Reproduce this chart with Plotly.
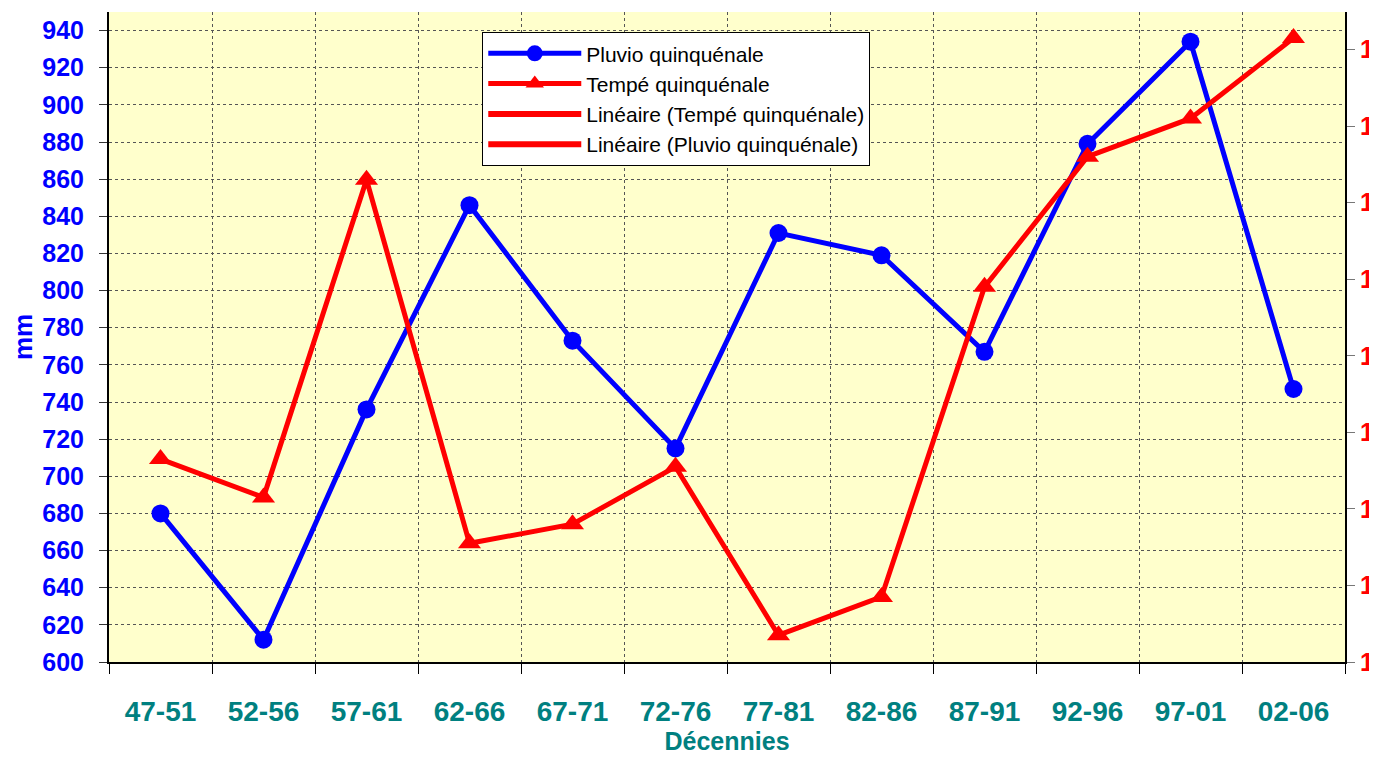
import plotly.graph_objects as go

periodes = ["47-51", "52-56", "57-61", "62-66", "67-71", "72-76",
            "77-81", "82-86", "87-91", "92-96", "97-01", "02-06"]
pluvio = [680, 612, 736, 846, 773, 715, 831, 819, 767, 879, 934, 747]
tempe = [10.53, 10.43, 11.26, 10.31, 10.36, 10.51, 10.07, 10.17, 10.98, 11.32, 11.42, 11.63]
left_ticks = list(range(600, 941, 20))
right_ticks = [10.0, 10.2, 10.4, 10.6, 10.8, 11.0, 11.2, 11.4, 11.6]
right_labels = ["1"] * len(right_ticks)

FONT = "Liberation Sans, Arial, sans-serif"

fig = go.Figure()
fig.add_trace(go.Scatter(
    x=periodes, y=pluvio, name="Pluvio quinquénale", mode="lines+markers",
    line=dict(color="#0000FF", width=5), marker=dict(symbol="circle", size=18, color="#0000FF"),
))
fig.add_trace(go.Scatter(
    x=periodes, y=tempe, name="Tempé quinquénale", mode="lines+markers", yaxis="y2",
    line=dict(color="#FF0000", width=5), marker=dict(symbol="triangle-up", size=20, color="#FF0000"),
))
fig.add_trace(go.Scatter(
    x=[None], y=[None], name="Linéaire (Tempé quinquénale)", mode="lines",
    line=dict(color="#FF0000", width=6),
))
fig.add_trace(go.Scatter(
    x=[None], y=[None], name="Linéaire (Pluvio quinquénale)", mode="lines",
    line=dict(color="#FF0000", width=6),
))

fig.update_layout(
    width=1369, height=749,
    margin=dict(l=101, r=32, t=4, b=95, autoexpand=False),
    paper_bgcolor="white", plot_bgcolor="#FFFFCC",
    font=dict(family=FONT),
    showlegend=True,
    legend=dict(
        x=0.302, y=0.969, xanchor="left", yanchor="top",
        bgcolor="white", bordercolor="black", borderwidth=1,
        font=dict(size=21, color="black"), itemwidth=93,
        tracegroupgap=0,
    ),
    xaxis=dict(
        type="category", range=[-0.5, 11.5], tickson="boundaries",
        showgrid=True, gridcolor="#555555", griddash="dot", gridwidth=1,
        ticks="outside", ticklen=10, tickcolor="black",
        showline=True, linecolor="black", linewidth=2, mirror=False,
        ticklabelstandoff=23,
        tickfont=dict(size=28, color="#008080", family=FONT, weight="bold"),
        title=dict(text="Décennies", font=dict(size=25, color="#008080", family=FONT, weight="bold"), standoff=6),
    ),
    yaxis=dict(
        range=[600, 950], tickvals=left_ticks,
        showgrid=True, gridcolor="#555555", griddash="dot", gridwidth=1,
        ticks="outside", ticklen=8, tickcolor="#333333",
        showline=True, linecolor="black", linewidth=2, zeroline=False,
        ticklabelstandoff=10,
        tickfont=dict(size=25, color="#0000FF", family=FONT, weight="bold"),
        title=dict(text="mm", font=dict(size=26, color="#0000FF", family=FONT, weight="bold"), standoff=10),
    ),
    yaxis2=dict(
        overlaying="y", side="right", range=[10.0, 11.698],
        tickvals=right_ticks, ticktext=right_labels, showgrid=False, zeroline=False,
        ticks="outside", ticklen=8, tickcolor="#777777",
        showline=True, linecolor="black", linewidth=2,
        tickfont=dict(size=25, color="#FF0000", family=FONT, weight="bold"),
    ),
)

fig.write_html("out.html")
